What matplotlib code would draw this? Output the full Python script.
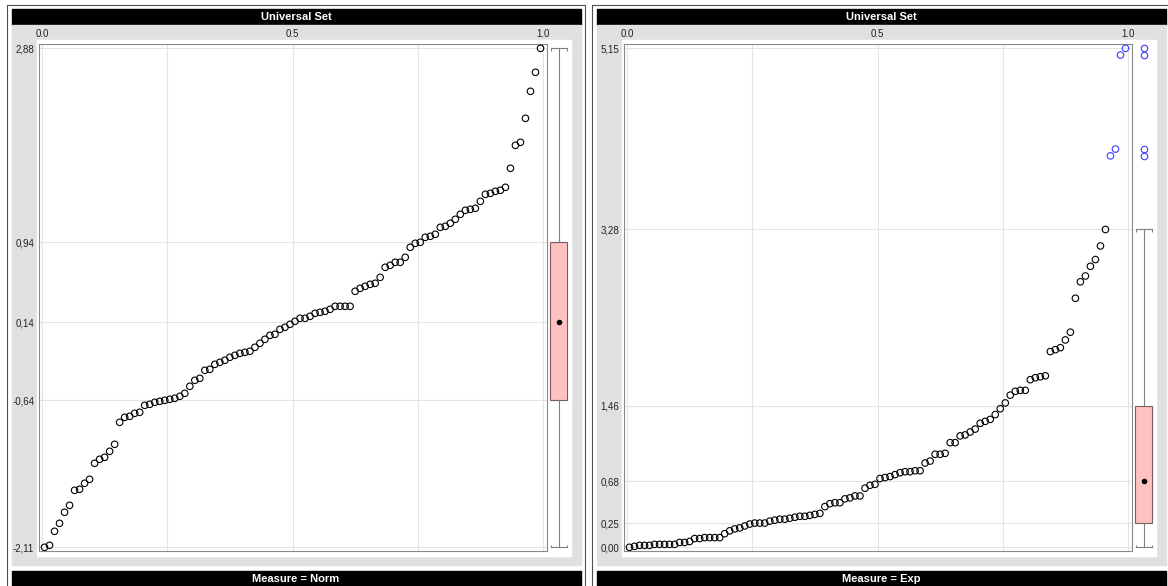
import matplotlib
matplotlib.use('Agg')
import matplotlib.pyplot as plt
from matplotlib.patches import Rectangle

plt.rcParams['font.family'] = ['Liberation Sans', 'DejaVu Sans']

W, H = 1168, 586

norm_vals = [-2.11, -2.09, -1.95, -1.87, -1.76, -1.69, -1.54, -1.53, -1.47, -1.43,
             -1.27, -1.23, -1.21, -1.15, -1.08, -0.86, -0.81, -0.80, -0.77, -0.76,
             -0.69, -0.68, -0.66, -0.65, -0.64, -0.63, -0.62, -0.60, -0.57, -0.50,
             -0.44, -0.42, -0.34, -0.33, -0.28, -0.26, -0.24, -0.21, -0.19, -0.17,
             -0.16, -0.15, -0.11, -0.07, -0.03, 0.01, 0.02, 0.07, 0.09, 0.12,
             0.15, 0.18, 0.18, 0.20, 0.23, 0.24, 0.25, 0.27, 0.30, 0.30,
             0.30, 0.30, 0.45, 0.48, 0.50, 0.52, 0.53, 0.59, 0.69, 0.71,
             0.74, 0.74, 0.79, 0.89, 0.93, 0.94, 0.99, 1.00, 1.02, 1.09,
             1.10, 1.13, 1.17, 1.22, 1.26, 1.27, 1.28, 1.35, 1.42, 1.43,
             1.45, 1.46, 1.49, 1.68, 1.91, 1.94, 2.18, 2.45, 2.64, 2.88]

exp_vals = [0.00, 0.01, 0.02, 0.02, 0.02, 0.03, 0.03, 0.03, 0.03, 0.03,
            0.05, 0.05, 0.06, 0.09, 0.09, 0.10, 0.10, 0.10, 0.10, 0.14,
            0.17, 0.19, 0.20, 0.22, 0.24, 0.25, 0.25, 0.25, 0.27, 0.28,
            0.29, 0.29, 0.30, 0.31, 0.32, 0.32, 0.33, 0.34, 0.35, 0.42,
            0.45, 0.46, 0.46, 0.50, 0.51, 0.53, 0.53, 0.61, 0.64, 0.65,
            0.71, 0.72, 0.73, 0.75, 0.77, 0.78, 0.78, 0.79, 0.79, 0.87,
            0.89, 0.96, 0.96, 0.97, 1.08, 1.08, 1.15, 1.16, 1.19, 1.22,
            1.28, 1.30, 1.32, 1.37, 1.43, 1.49, 1.57, 1.61, 1.62, 1.62,
            1.73, 1.75, 1.76, 1.77, 2.02, 2.04, 2.06, 2.14, 2.22, 2.57,
            2.74, 2.80, 2.90, 2.97, 3.11, 3.28, 4.04, 4.11, 5.08, 5.15]

# whisker low, Q1, median, Q3, whisker high
norm_box = [-2.11, -0.64, 0.14, 0.94, 2.88]
exp_box = [0.00, 0.25, 0.68, 1.46, 3.28]

x_ticks = [0.0, 0.5, 1.0]
x_grid = [0.25, 0.75]
titles = ['Universal Set', 'Universal Set']
measures = ['Measure = Norm', 'Measure = Exp']

fig = plt.figure(figsize=(W / 100, H / 100), dpi=100)
bg = fig.add_axes([0, 0, 1, 1])
bg.set_xlim(0, W)
bg.set_ylim(H, 0)
bg.axis('off')


def rect_px(x0, y0, x1, y1):
    return [x0 / W, 1 - y1 / H, (x1 - x0) / W, (y1 - y0) / H]


def panel(dx, vals, box, title, measure):
    # frame, bars and backgrounds
    bg.add_patch(Rectangle((6.5 + dx, 4.5), 578, 600, fill=False, ec='#505050', lw=0.8))
    bg.add_patch(Rectangle((11.5 + dx, 9), 569.5, 16, color='black'))
    bg.add_patch(Rectangle((11.5 + dx, 25), 569.5, 540, color='#e0e0e0'))
    bg.add_patch(Rectangle((37 + dx, 40), 534, 516, color='white'))
    bg.add_patch(Rectangle((11.5 + dx, 571), 569.5, 16, color='black'))
    bg.text(296 + dx, 17.5, title, color='white', weight='bold', size=8,
            ha='center', va='center')
    bg.text(296 + dx, 578.5, measure, color='white', weight='bold', size=8,
            ha='center', va='center')

    lo, hi = min(vals), max(vals)
    r = hi - lo
    ylim = (lo - r * 3.7 / 499, hi + r * 4.3 / 499)
    out = [v < box[0] or v > box[4] for v in vals]

    # quantile plot
    ax = fig.add_axes(rect_px(39 + dx, 44, 546.5 + dx, 551))
    n = len(vals)
    xs = [(i + 0.5) / n for i in range(n)]
    cols = ['#3c3cff' if o else 'black' for o in out]
    ax.scatter(xs, vals, s=22, facecolors='none', edgecolors=cols, linewidths=0.8, zorder=3)
    ax.set_xlim(-3 / 501, 1 + 3.5 / 501)
    ax.set_ylim(*ylim)
    yt = sorted(set(box + [lo, hi]))
    ax.set_yticks(yt)
    ax.set_yticklabels([f'{v:.2f}'.replace('.', ',') for v in yt])
    ax.xaxis.tick_top()
    ax.set_xticks(x_ticks)
    ax.set_xticklabels([f'{v:.1f}' for v in x_ticks])
    ax.set_xticks(x_grid, minor=True)
    ax.tick_params(which='both', length=0, labelsize=7, colors='#222222')
    ax.tick_params(axis='y', pad=3.4)
    ax.tick_params(axis='x', pad=3.5)
    ax.grid(True, which='both', color='#e4e4e4', lw=0.8)
    ax.set_axisbelow(True)
    for s in ax.spines.values():
        s.set_color('#8a8a8a')
        s.set_linewidth(0.8)

    # box plot strip
    bx = fig.add_axes(rect_px(547 + dx, 44, 571 + dx, 551))
    bx.set_xlim(0, 24)
    bx.set_ylim(*ylim)
    bx.axis('off')
    fl = [v for v, o in zip(vals, out) if o]
    stats = [dict(whislo=box[0], q1=box[1], med=box[2], q3=box[3], whishi=box[4], fliers=fl)]
    bx.bxp(stats, positions=[11.5], widths=17, capwidths=16, patch_artist=True,
           boxprops=dict(facecolor='#ffc0c0', edgecolor='#7a5c5c', lw=0.8),
           whiskerprops=dict(color='#808080', lw=0.8),
           capprops=dict(color='#808080', lw=0.8),
           medianprops=dict(lw=0),
           flierprops=dict(marker='o', mfc='none', mec='#3c3cff', ms=4.7, mew=0.8))
    bx.plot([11.5], [box[2]], 'o', color='black', ms=3)
    t = r * 2.5 / 499
    bx.vlines([3.5, 19.5], box[4] - t, box[4], color='#808080', lw=0.8)
    bx.vlines([3.5, 19.5], box[0], box[0] + t, color='#808080', lw=0.8)


panel(0, norm_vals, norm_box, titles[0], measures[0])
panel(585, exp_vals, exp_box, titles[1], measures[1])

fig.savefig('out.png', dpi=100)
